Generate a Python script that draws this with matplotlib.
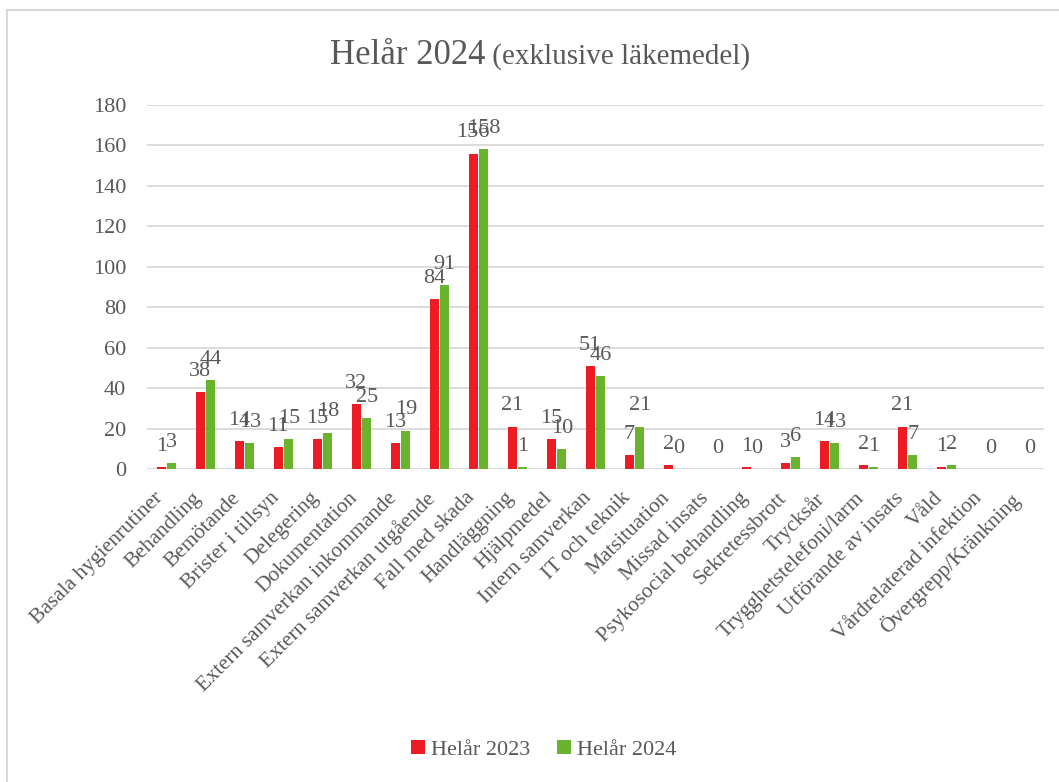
import numpy as np
import matplotlib
matplotlib.use("Agg")
import matplotlib.pyplot as plt
from matplotlib.patches import Rectangle
from matplotlib.offsetbox import TextArea, HPacker, AnchoredOffsetbox

categories = [
    "Basala hygienrutiner", "Behandling", "Bemötande", "Brister i tillsyn",
    "Delegering", "Dokumentation", "Extern samverkan inkommande",
    "Extern samverkan utgående", "Fall med skada", "Handläggning",
    "Hjälpmedel", "Intern samverkan", "IT och teknik", "Matsituation",
    "Missad insats", "Psykosocial behandling", "Sekretessbrott", "Trycksår",
    "Trygghetstelefoni/larm", "Utförande av insats", "Våld",
    "Vårdrelaterad infektion", "Övergrepp/Kränkning",
]
helar_2023 = [1, 38, 14, 11, 15, 32, 13, 84, 156, 21, 15, 51, 7, 2,
              np.nan, 1, 3, 14, 2, 21, 1, np.nan, np.nan]
helar_2024 = [3, 44, 13, 15, 18, 25, 19, 91, 158, 1, 10, 46, 21, 0,
              0, 0, 6, 13, 1, 7, 2, 0, 0]
series_names = ["Helår 2023", "Helår 2024"]
yticks = [0, 20, 40, 60, 80, 100, 120, 140, 160, 180]

RED = "#ED1C24"
GREEN = "#6AB42D"
TEXT = "#595959"
GRID = "#D9D9D9"

plt.rcParams["font.family"] = ["Liberation Serif", "DejaVu Serif"]

W, H = 1059, 782
fig = plt.figure(figsize=(W / 100, H / 100), dpi=100)
ax = fig.add_axes([147 / W, 1 - 469 / H, (1044 - 147) / W, (469 - 105) / H])

x = np.arange(len(categories))
bw = 0.23
off = 0.135
b1 = ax.bar(x - off, helar_2023, bw, color=RED, label=series_names[0], zorder=3)
b2 = ax.bar(x + off, helar_2024, bw, color=GREEN, label=series_names[1], zorder=3)


def value_labels(vals):
    return ["" if np.isnan(v) else f"{int(v)}" for v in vals]


ax.bar_label(b1, labels=value_labels(helar_2023), padding=8, fontsize=16, color=TEXT)
ax.bar_label(b2, labels=value_labels(helar_2024), padding=8, fontsize=16, color=TEXT)

ax.set_xlim(-0.5, len(categories) - 0.5)
ax.set_ylim(0, 180)
ax.set_yticks(yticks)
ax.set_yticklabels([str(t) for t in yticks], fontsize=16, color=TEXT)
ax.set_xticks(x)
ax.set_xticklabels(categories, rotation=45, ha="right", fontsize=15.5, color=TEXT)
ax.tick_params(axis="both", length=0)
ax.tick_params(axis="y", pad=15)
ax.tick_params(axis="x", pad=14)
ax.yaxis.grid(True, color=GRID, linewidth=1.3, zorder=0)
ax.set_axisbelow(True)
for s in ax.spines.values():
    s.set_visible(False)

# Title: main part plus smaller parenthetical, sharing a baseline
t1 = TextArea("Helår 2024", textprops=dict(fontsize=25, color=TEXT))
t2 = TextArea(" (exklusive läkemedel)", textprops=dict(fontsize=21, color=TEXT))
pack = HPacker(children=[t1, t2], align="baseline", pad=0, sep=0)
title_box = AnchoredOffsetbox(loc="center", child=pack, pad=0, frameon=False,
                              bbox_to_anchor=(540 / W, 1 - 55 / H),
                              bbox_transform=fig.transFigure, borderpad=0)
fig.add_artist(title_box)

fig.legend(handles=[b1, b2], labels=series_names, loc="center",
           bbox_to_anchor=(544 / W, 1 - 750 / H), ncol=2, frameon=False,
           fontsize=16, labelcolor=TEXT, handlelength=0.6, handleheight=0.6,
           handletextpad=0.3, columnspacing=1.2)

# Chart area outline
fig.add_artist(Rectangle((7 / W, -0.05), 1.1, 1 - 10 / H + 0.05,
                         transform=fig.transFigure, fill=False,
                         edgecolor=GRID, linewidth=1.5))

fig.savefig("out.png", dpi=100, facecolor="white")
